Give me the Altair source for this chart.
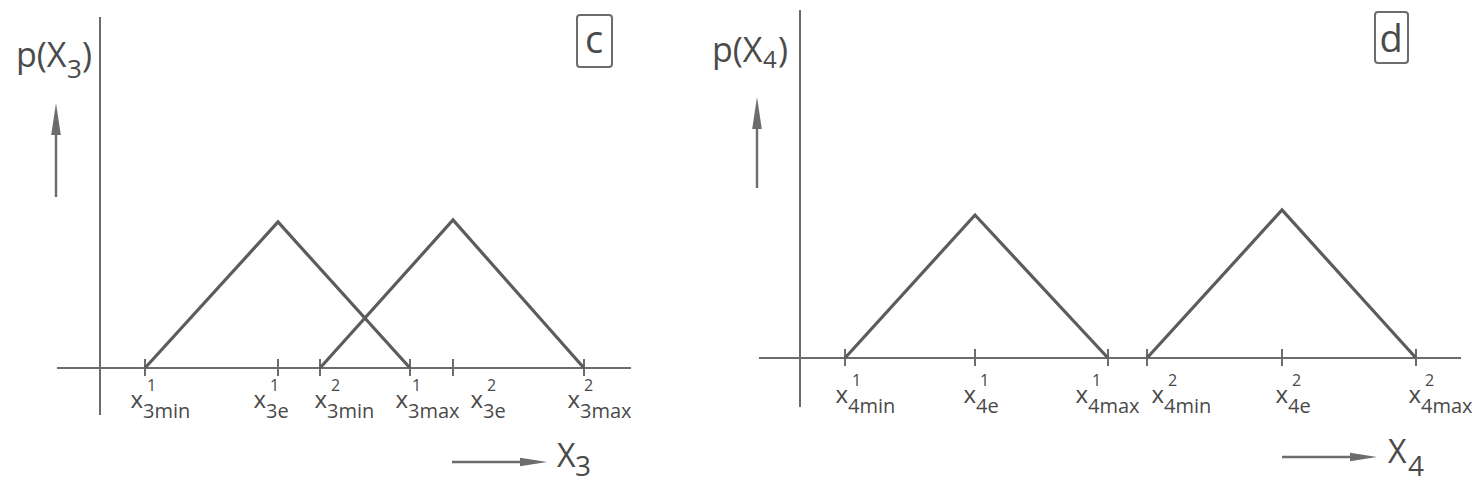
import altair as alt
import pandas as pd

# ---------------- data (sketch units, origin = axis crossing) ----
# panel c : two overlapping triangular densities of X3
c_tick_pos = [4.5, 17.8, 22.0, 31.0, 35.3, 48.4]
c_tick_sup = ["1", "1", "2", "1", "2", "2"]
c_tick_sub = ["3min", "3e", "3min", "3max", "3e", "3max"]
c_tri_min = [4.5, 22.0]
c_tri_mode = [17.8, 35.3]
c_tri_max = [31.0, 48.4]
c_tri_peak = [14.6, 14.8]

# panel d : two separated triangular densities of X4
d_tick_pos = [4.5, 17.5, 30.8, 34.7, 48.2, 61.6]
d_tick_sup = ["1", "1", "1", "2", "2", "2"]
d_tick_sub = ["4min", "4e", "4max", "4min", "4e", "4max"]
d_tri_min = [4.5, 34.7]
d_tri_mode = [17.5, 48.2]
d_tri_max = [30.8, 61.6]
d_tri_peak = [14.3, 14.8]

# hand-lettering offsets of each tick label (pixels, layout only)
c_label_shift = [-3, -13, 6, -3, 29, -5]
d_label_shift = [2, 0, -21, 16, 5, 4]

FONT = "Open Sans"
TXT = "#4a4a4a"
LINE = "#5c5c5c"
AXC = "#6c6c6c"


def panel(tick_pos, tick_sup, tick_sub, shift, tmin, tmode, tmax, tpeak, lay, width, height):
    xs = alt.Scale(domain=lay["xdom"], nice=False, zero=False)
    ys = alt.Scale(domain=lay["ydom"], nice=False, zero=False)
    upp = (lay["xdom"][1] - lay["xdom"][0]) / width  # data units per pixel

    def X(f="x"):
        return alt.X(f"{f}:Q", scale=xs, axis=None)

    def Y(f="y"):
        return alt.Y(f"{f}:Q", scale=ys, axis=None)

    # triangles
    rows = []
    for i in range(len(tmin)):
        rows += [
            {"tri": i, "k": 0, "x": tmin[i], "y": 0.0},
            {"tri": i, "k": 1, "x": tmode[i], "y": tpeak[i]},
            {"tri": i, "k": 2, "x": tmax[i], "y": 0.0},
        ]
    tri = alt.Chart(pd.DataFrame(rows)).mark_line(
        color=LINE, strokeWidth=3.2, strokeJoin="miter"
    ).encode(x=X(), y=Y(), detail="tri:N", order="k:Q")

    n = len(tick_pos)
    ticks_df = pd.DataFrame({
        "x": tick_pos,
        "xl": [p + s * upp for p, s in zip(tick_pos, shift)],
        "y": [0.0] * n, "ylo": [-0.8] * n, "yhi": [0.9] * n,
        "base": ["x"] * n, "sup": tick_sup, "sub": tick_sub,
    })
    ticks = alt.Chart(ticks_df).mark_rule(color=AXC, strokeWidth=2).encode(
        x=X(), y=Y("yhi"), y2="ylo:Q")
    lab_base = alt.Chart(ticks_df).mark_text(
        align="right", baseline="alphabetic", dx=1, dy=lay["dy_base"],
        fontSize=24, font=FONT, color=TXT).encode(x=X("xl"), y=Y(), text="base:N")
    lab_sup = alt.Chart(ticks_df).mark_text(
        align="left", baseline="alphabetic", dx=5, dy=lay["dy_sup"],
        fontSize=16, font=FONT, color=TXT).encode(x=X("xl"), y=Y(), text="sup:N")
    lab_sub = alt.Chart(ticks_df).mark_text(
        align="left", baseline="alphabetic", dx=1, dy=lay["dy_sub"],
        fontSize=20, font=FONT, color=TXT).encode(x=X("xl"), y=Y(), text="sub:N")

    # axes lines and arrow shafts
    axes_df = pd.DataFrame(lay["axes"], columns=["x", "y", "x2", "y2"])
    axes = alt.Chart(axes_df).mark_rule(color=AXC, strokeWidth=2).encode(
        x=X(), y=Y(), x2="x2:Q", y2="y2:Q")
    shaft_df = pd.DataFrame(lay["shafts"], columns=["x", "y", "x2", "y2"])
    shafts = alt.Chart(shaft_df).mark_rule(color=AXC, strokeWidth=2.4).encode(
        x=X(), y=Y(), x2="x2:Q", y2="y2:Q")

    up_df = pd.DataFrame([lay["uphead"]], columns=["x", "y"])
    uphead = alt.Chart(up_df).mark_point(
        shape="M0,-1L0.3,1L-0.3,1Z", filled=True, color=AXC, opacity=1, size=1024
    ).encode(x=X(), y=Y())
    rt_df = pd.DataFrame([lay["rthead"]], columns=["x", "y"])
    rthead = alt.Chart(rt_df).mark_point(
        shape="M1,0L-1,0.32L-1,-0.32Z", filled=True, color=AXC, opacity=1, size=729
    ).encode(x=X(), y=Y())

    # free texts (axis names)
    ann_df = pd.DataFrame(lay["texts"], columns=["x", "y", "t", "fs"])
    ann = alt.Chart(ann_df).mark_text(
        align="left", baseline="alphabetic", font=FONT, color=TXT).encode(
        x=X(), y=Y(), text="t:N", size=alt.Size("fs:Q", scale=None, legend=None))

    # boxed panel letter
    box_df = pd.DataFrame([lay["box"]], columns=["x", "x2", "y", "y2"])
    box = alt.Chart(box_df).mark_rect(
        filled=False, stroke=AXC, strokeWidth=2, cornerRadius=3).encode(
        x=X(), x2="x2:Q", y=Y(), y2="y2:Q")
    let_df = pd.DataFrame([lay["letter"]], columns=["x", "y", "t"])
    letter = alt.Chart(let_df).mark_text(
        align="center", baseline="alphabetic", font=FONT, fontSize=38, color=TXT).encode(
        x=X(), y=Y(), text="t:N")

    return alt.layer(axes, ticks, tri, shafts, uphead, rthead, lab_base, lab_sup,
                     lab_sub, ann, box, letter).properties(width=width, height=height)


lay_c = {
    "xdom": [-9.2, 60.0], "ydom": [-11.7, 36.0],
    "dy_sup": 23, "dy_base": 40, "dy_sub": 50,
    "axes": [[-4.3, 0.0, 53.1, 0.0], [0.0, 35.1, 0.0, -4.7]],
    "shafts": [[-4.4, 17.1, -4.4, 24.0], [35.2, -9.4, 42.5, -9.4]],
    "uphead": [-4.4, 24.9], "rthead": [43.35, -9.4],
    "texts": [[-8.4, 30.1, "p(X", 34], [-3.3, 29.0, "3", 26], [-1.8, 30.1, ")", 34],
              [45.7, -9.9, "X", 32], [47.5, -10.8, "3", 28]],
    "box": [47.7, 51.2, 30.1, 35.3], "letter": [49.4, 31.5, "c"],
}
lay_d = {
    "xdom": [-10.0, 67.2], "ydom": [-12.7, 35.0],
    "dy_sup": 28, "dy_base": 45, "dy_sub": 55,
    "axes": [[-4.1, 0.0, 66.1, 0.0], [0.0, 34.8, 0.0, -4.9]],
    "shafts": [[-4.3, 17.0, -4.3, 23.6], [48.2, -9.9, 55.5, -9.9]],
    "uphead": [-4.3, 24.5], "rthead": [56.35, -9.9],
    "texts": [[-8.8, 29.6, "p(X", 34], [-3.7, 29.0, "4", 24], [-2.2, 29.6, ")", 34],
              [58.8, -10.5, "X", 32], [60.8, -11.8, "4", 28]],
    "box": [57.5, 60.8, 29.5, 34.6], "letter": [59.1, 30.6, "d"],
}

pc = panel(c_tick_pos, c_tick_sup, c_tick_sub, c_label_shift, c_tri_min, c_tri_mode,
           c_tri_max, c_tri_peak, lay_c, 692, 477)
pd_ = panel(d_tick_pos, d_tick_sup, d_tick_sub, d_label_shift, d_tri_min, d_tri_mode,
            d_tri_max, d_tri_peak, lay_d, 772, 477)

chart = alt.hconcat(pc, pd_, spacing=0).resolve_scale(
    x="independent", y="independent").properties(
    padding=0, background="white").configure_view(stroke=None)

chart.save("out.html", embed_options={"renderer": "svg", "actions": False})
